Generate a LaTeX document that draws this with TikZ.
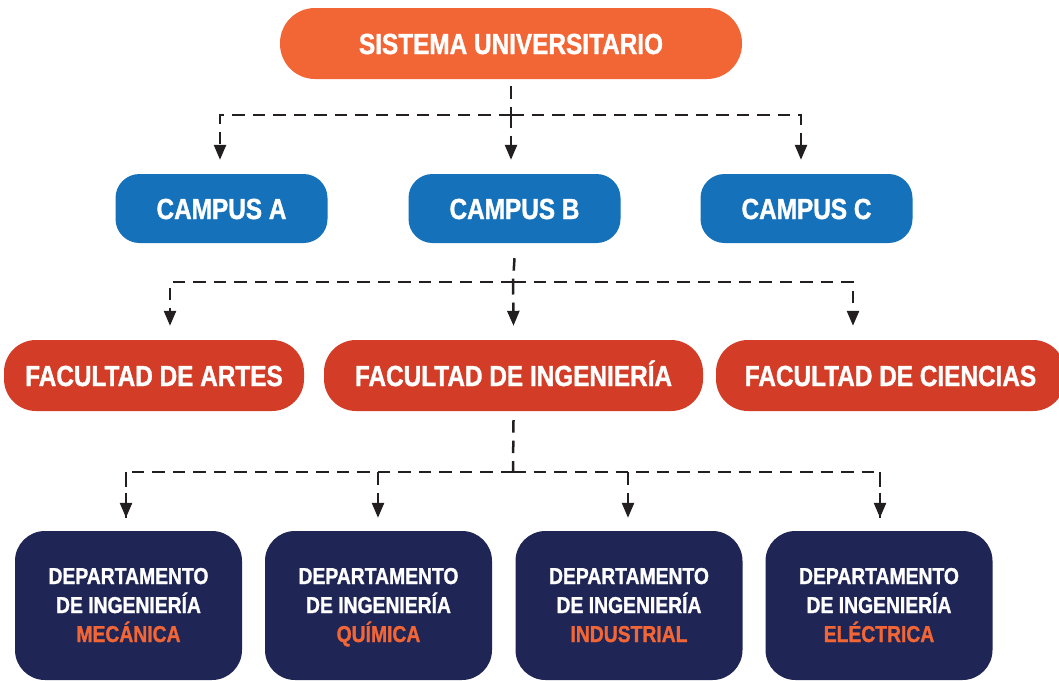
\documentclass[tikz,border=0pt]{standalone}
\usepackage{fontspec}
\setmainfont[FakeStretch=0.84,BoldFeatures={FakeBold=1.2}]{Liberation Sans}
\usetikzlibrary{arrows.meta,calc}
\definecolor{sisorange}{HTML}{F26636}
\definecolor{campusblue}{HTML}{1571BA}
\definecolor{facred}{HTML}{D33D28}
\definecolor{deptnavy}{HTML}{1F2555}
\definecolor{linegray}{HTML}{231F20}
\newcommand{\deptname}[1]{\rule{0pt}{21pt}DEPARTAMENTO\\DE INGENIERÍA\\\textcolor{sisorange}{#1}\rule[-6pt]{0pt}{0pt}}
\begin{document}
\begin{tikzpicture}[x=1pt,y=-1pt,
  box/.style={text=white,font=\bfseries\fontsize{29}{32}\selectfont,inner sep=0pt,align=center},
  oneline/.style={box,text height=21pt,text depth=0pt},
  campus/.style={oneline,fill=campusblue,minimum width=212pt,minimum height=69pt,rounded corners=24pt},
  facultad/.style={oneline,fill=facred,minimum height=71pt,rounded corners=32pt},
  dept/.style={box,fill=deptnavy,minimum width=227pt,minimum height=149pt,rounded corners=30pt,font=\bfseries\fontsize{23}{29}\selectfont},
  link/.style={draw=linegray,line width=2.5pt,dash pattern=on 12.5pt off 8pt},
  tip/.style={-{Triangle[length=15pt,width=12pt]}}]
\useasboundingbox (0,0) rectangle (1059,680);
\node[oneline,fill=sisorange,minimum width=462pt,minimum height=71pt,rounded corners=35pt] (sis) at (511,43.5) {SISTEMA UNIVERSITARIO};
\node[campus] (ca) at (221.5,208.5) {CAMPUS A};
\node[campus] (cb) at (514.5,208.5) {CAMPUS B};
\node[campus] (cc) at (806.5,208.5) {CAMPUS C};
\node[facultad,minimum width=300pt] (fa) at (154,375.5) {FACULTAD DE ARTES};
\node[facultad,minimum width=379pt] (fi) at (513.5,375.5) {FACULTAD DE INGENIERÍA};
\node[facultad,minimum width=349pt] (fc) at (890.5,375.5) {FACULTAD DE CIENCIAS};
\node[dept] (d1) at (128.5,605.5) {\deptname{MECÁNICA}};
\node[dept] (d2) at (378.5,605.5) {\deptname{QUÍMICA}};
\node[dept] (d3) at (629,605.5) {\deptname{INDUSTRIAL}};
\node[dept] (d4) at (879,605.5) {\deptname{ELÉCTRICA}};
\coordinate (bus1) at (511,115);
\coordinate (bus2) at (513,282);
\coordinate (bus3) at (513,472);
\draw[link] ([yshift=-7pt]sis.south) -- (bus1);
\draw[link,tip] (bus1) -| ([xshift=-1.5pt,yshift=14pt]ca.north);
\draw[link,tip] (bus1) -| ([xshift=-3.5pt,yshift=14pt]cb.north);
\draw[link,tip] (bus1) -| ([xshift=-5.5pt,yshift=14pt]cc.north);
\draw[link] ([yshift=-15pt]cb.south) -- (bus2);
\draw[link,tip] (bus2) -| ([xshift=16pt,yshift=14pt]fa.north);
\draw[link,tip] (bus2) -- ([yshift=14pt]fi.north);
\draw[link,tip] (bus2) -| ([xshift=-37.5pt,yshift=14pt]fc.north);
\draw[link] ([yshift=-9pt]fi.south) -- (bus3);
\draw[link] (bus3) -| ([xshift=-2.5pt,yshift=13pt]d1.north);
\draw[link] (bus3) -| ([xshift=1pt,yshift=13pt]d4.north);
\foreach \d/\dx in {d1/-2.5,d2/-0.5,d3/-1,d4/1}
  \draw[link,tip] ([xshift=\dx pt]\d.north |- bus3) -- ([xshift=\dx pt,yshift=13pt]\d.north);
\end{tikzpicture}
\end{document}
